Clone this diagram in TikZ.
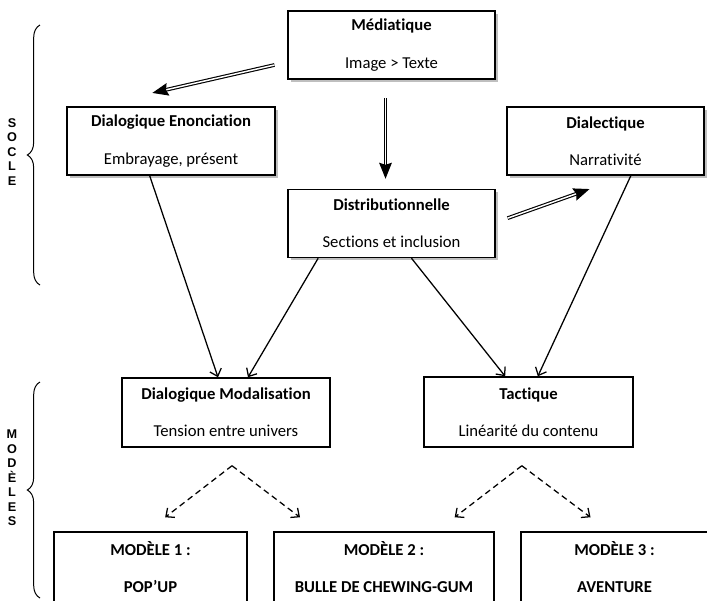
\documentclass[tikz,border=0pt]{standalone}
\usepackage{fontspec}
\setmainfont{Carlito}[Ligatures=NoCommon]
\newfontfamily\sidefont{Liberation Sans}
\usetikzlibrary{arrows.meta,shadows,decorations.pathreplacing}

\tikzset{every picture/.style={line width=0.75pt}}

\begin{document}
\begin{tikzpicture}[x=0.75pt, y=-0.75pt,
                    box/.style={draw, line width=1.1pt, fill=white, inner sep=0pt, align=center,
                                font=\fontsize{12.5}{28}\selectfont},
                    soclebox/.style={box, drop shadow={shadow xshift=2.2pt, shadow yshift=-2.2pt, opacity=0.5}},
                    link/.style={line width=0.95pt, -{Straight Barb[length=5pt,width=9pt]}},
                    dbl/.style={double, double distance=1.1pt, line width=0.85pt,
                                -{Stealth[length=12pt,width=9.5pt,inset=1.5pt]}},
                    fork/.style={link, dash pattern=on 4.5pt off 3pt},
                    bracket/.style={decorate, decoration={brace, amplitude=9.5pt}},
                    side/.style={align=center, inner sep=0pt,
                                 font=\sidefont\bfseries\fontsize{9.5}{10.9}\selectfont}]
  \useasboundingbox (0,0) rectangle (707,600);

  % socle
  \node[soclebox, minimum width=155pt, minimum height=51pt] (med) at (391.5,45)
    {\textbf{Médiatique}\\Image > Texte};
  \node[soclebox, minimum width=156pt, minimum height=51pt] (enon) at (171,141)
    {\textbf{Dialogique Enonciation}\\Embrayage, présent};
  \node[soclebox, minimum width=148pt, minimum height=51pt] (dialec) at (605.5,141)
    {\textbf{Dialectique}\\Narrativité};
  \node[soclebox, minimum width=155pt, minimum height=51pt] (distrib) at (391.5,223.5)
    {\textbf{Distributionnelle}\\Sections et inclusion};

  % modeles
  \node[box, minimum width=156pt, minimum height=51.75pt] (modal) at (226,412.5)
    {\textbf{Dialogique Modalisation}\\Tension entre univers};
  \node[box, minimum width=156.75pt, minimum height=52.5pt] (tact) at (528.5,412)
    {\textbf{Tactique}\\Linéarité du contenu};
  \node[box, minimum width=144.75pt, minimum height=52.5pt] (mod1) at (150.5,567)
    {\textbf{MODÈLE 1 :}\\\textbf{POP’UP}};
  \node[box, minimum width=165pt, minimum height=52.5pt] (mod2) at (384,567)
    {\textbf{MODÈLE 2 :}\\\textbf{BULLE DE CHEWING-GUM}};
  \node[box, minimum width=140pt, minimum height=52.5pt] (mod3) at (614.5,567)
    {\textbf{MODÈLE 3 :}\\\textbf{AVENTURE}};

  % braces
  \draw[bracket] (40,285) -- (40,25);
  \draw[bracket] (40,598) -- (40,382);
  \node[side] (socle) at (12,152) {S\\O\\C\\L\\E};
  \node[side] (modeles) at (12,478) {M\\O\\D\\È\\L\\E\\S};

  % double arrows
  \draw[dbl] ([xshift=-9.75pt,yshift=-15pt]med.west) -- ([xshift=-14pt,yshift=10pt]enon.north);
  \draw[dbl, shorten <=14pt, shorten >=7.5pt] ([xshift=-4.5pt]med.south) -- ([xshift=-4.5pt]distrib.north);
  \draw[dbl] ([xshift=9pt,yshift=4pt]distrib.east) -- ([xshift=-12pt,yshift=-10pt]dialec.south);

  % links
  \draw[link] ([xshift=-16pt]enon.south) -- ([xshift=-6pt]modal.north);
  \draw[link] ([xshift=-55pt]distrib.south) -- ([xshift=16.5pt]modal.north);
  \draw[link] ([xshift=15pt]distrib.south) -- ([xshift=-17.5pt]tact.north);
  \draw[link] ([xshift=19pt]dialec.south) -- ([xshift=7pt]tact.north);

  % models
  \coordinate (mfork) at ([xshift=4.5pt,yshift=-13.5pt]modal.south);
  \coordinate (tfork) at ([xshift=-5pt,yshift=-13.5pt]tact.south);
  \draw[fork] (mfork) -- ([xshift=11pt,yshift=10.5pt]mod1.north);
  \draw[fork] (mfork) -- ([xshift=-63pt,yshift=10.5pt]mod2.north);
  \draw[fork] (tfork) -- ([xshift=53pt,yshift=10.5pt]mod2.north);
  \draw[fork] (tfork) -- ([xshift=-18pt,yshift=10.5pt]mod3.north);

\end{tikzpicture}
\end{document}
